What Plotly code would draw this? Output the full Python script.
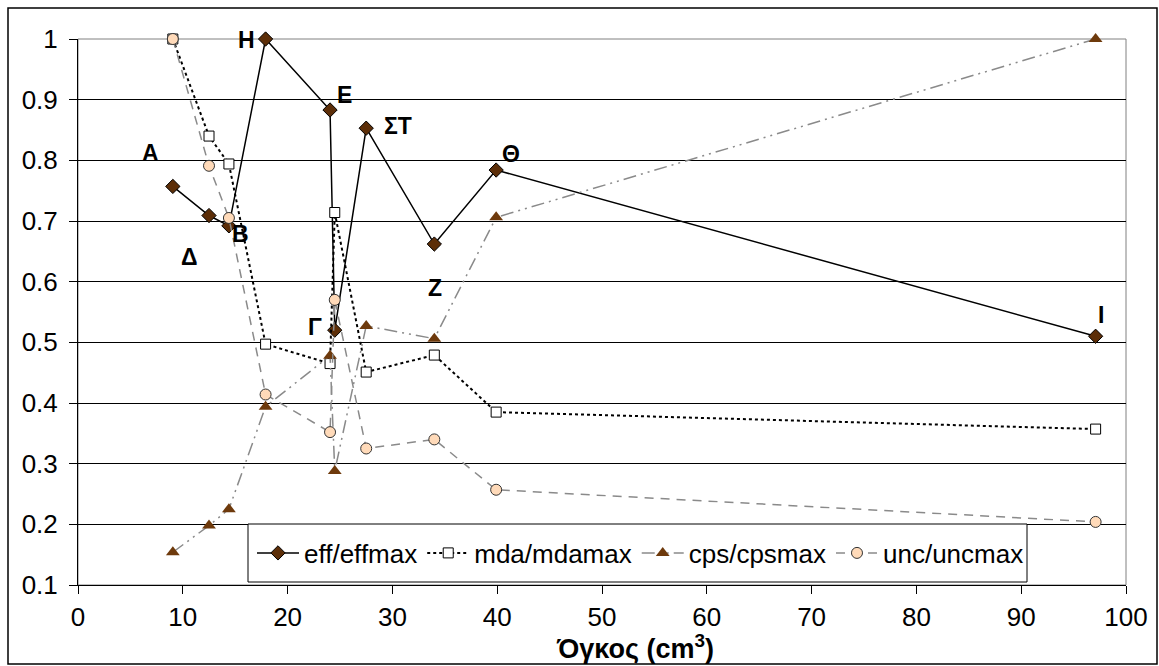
import plotly.graph_objects as go

# Detector volumes (cm^3) and normalised quantities
volume = [9.05, 12.5, 14.4, 17.9, 24.05, 24.5, 27.5, 34.0, 39.9, 97.1]
detector = ["Α", "Δ", "Β", "Η", "Ε", "Γ", "ΣΤ", "Ζ", "Θ", "Ι"]
eff_ratio = [0.757, 0.709, 0.692, 1.0, 0.883, 0.520, 0.853, 0.662, 0.784, 0.510]
mda_ratio = [1.0, 0.840, 0.794, 0.497, 0.465, 0.714, 0.451, 0.479, 0.385, 0.357]
cps_ratio = [0.154, 0.198, 0.225, 0.394, 0.478, 0.288, 0.527, 0.506, 0.706, 1.0]
unc_ratio = [1.0, 0.791, 0.705, 0.414, 0.352, 0.570, 0.325, 0.340, 0.257, 0.204]
x_ticks = [0, 10, 20, 30, 40, 50, 60, 70, 80, 90, 100]
y_ticks = [0.1, 0.2, 0.3, 0.4, 0.5, 0.6, 0.7, 0.8, 0.9, 1.0]

FONT = "Arial, Liberation Sans, sans-serif"
W, H = 1159, 666
ML, MR, MT, MB = 78, 33, 39, 81
PW, PH = W - ML - MR, H - MT - MB


def px_x(p):
    return (p - ML) / PW


def px_y(p):
    return (MT + PH - p) / PH


fig = go.Figure()

fig.add_trace(go.Scatter(
    x=volume, y=eff_ratio, name="eff/effmax", mode="lines+markers",
    cliponaxis=False,
    line=dict(color="black", width=1.5),
    marker=dict(symbol="diamond", size=11, color="#5C2E08",
                line=dict(color="black", width=1)),
))
fig.add_trace(go.Scatter(
    x=volume, y=mda_ratio, name="mda/mdamax", mode="lines+markers",
    cliponaxis=False,
    line=dict(color="black", width=2, dash="dot"),
    marker=dict(symbol="square", size=10, color="white",
                line=dict(color="black", width=1)),
))
fig.add_trace(go.Scatter(
    x=volume, y=cps_ratio, name="cps/cpsmax", mode="lines+markers",
    cliponaxis=False,
    line=dict(color="#8a8a8a", width=1.5, dash="13px,5px,2px,5px,2px,5px"),
    marker=dict(symbol="triangle-up", size=12, color="#6E3A0C",
                line=dict(color="#6E3A0C", width=0)),
))
fig.add_trace(go.Scatter(
    x=volume, y=unc_ratio, name="unc/uncmax", mode="lines+markers",
    cliponaxis=False,
    line=dict(color="#8a8a8a", width=1.5, dash="9px,7px"),
    marker=dict(symbol="circle", size=11, color="#FFDAB9",
                line=dict(color="#333333", width=1)),
))

# Detector letters beside each efficiency point (pixel offsets)
label_dx = [-22, -20, 12, -19, 14, -20, 32, 1, 15, 5]
label_dy = [33, -41, -8, -1, 15, 3, 2, -44, 16, 21]
for xv, yv, name, dx, dy in zip(volume, eff_ratio, detector, label_dx, label_dy):
    fig.add_annotation(
        x=xv, y=yv, text=f"<b>{name}</b>", showarrow=False,
        xshift=dx, yshift=dy, font=dict(family=FONT, size=23, color="black"),
    )

# Axis title, centred a little right of the plot centre
fig.add_annotation(
    xref="paper", yref="paper", x=px_x(635), y=px_y(647),
    text="<b>Όγκος (cm<sup>3</sup>)</b>", showarrow=False,
    xanchor="center", yanchor="middle",
    font=dict(family=FONT, size=27, color="black"),
)

# Plot-area frame (grey), legend box and outer chart border (black)
fig.add_shape(type="rect", xref="paper", yref="paper", x0=0, y0=0, x1=1, y1=1,
              line=dict(color="#808080", width=1), layer="below")
fig.add_shape(type="rect", xref="paper", yref="paper",
              x0=px_x(248), x1=px_x(1027), y0=px_y(582), y1=px_y(524),
              line=dict(color="black", width=1), fillcolor="white", layer="above")
fig.add_shape(type="rect", xref="paper", yref="paper",
              x0=px_x(8), x1=px_x(1157), y0=px_y(664), y1=px_y(8),
              line=dict(color="black", width=1.5))

fig.update_layout(
    width=W, height=H,
    margin=dict(l=ML, r=MR, t=MT, b=MB, pad=0),
    paper_bgcolor="white", plot_bgcolor="white",
    font=dict(family=FONT, size=26, color="black"),
    showlegend=True,
    legend=dict(
        orientation="h", x=px_x(252), y=px_y(553),
        xanchor="left", yanchor="middle",
        bgcolor="rgba(0,0,0,0)", borderwidth=0,
        font=dict(family=FONT, size=26, color="black"),
        itemwidth=42, itemsizing="trace",
    ),
    xaxis=dict(
        range=[0, 100], tickvals=x_ticks, ticktext=[str(v) for v in x_ticks],
        showgrid=False, zeroline=False,
        showline=True, linecolor="black", linewidth=1,
        ticks="outside", ticklen=8, tickcolor="black",
        tickfont=dict(family=FONT, size=26, color="black"),
        ticklabelstandoff=1,
    ),
    yaxis=dict(
        range=[0.1, 1.0], tickvals=y_ticks,
        ticktext=["0.1", "0.2", "0.3", "0.4", "0.5", "0.6", "0.7", "0.8", "0.9", "1"],
        showgrid=True, gridcolor="black", gridwidth=1, zeroline=False,
        showline=True, linecolor="black", linewidth=1,
        ticks="outside", ticklen=8, tickcolor="black",
        tickfont=dict(family=FONT, size=26, color="black"),
        ticklabelstandoff=6,
    ),
)

fig.write_html("out.html")
